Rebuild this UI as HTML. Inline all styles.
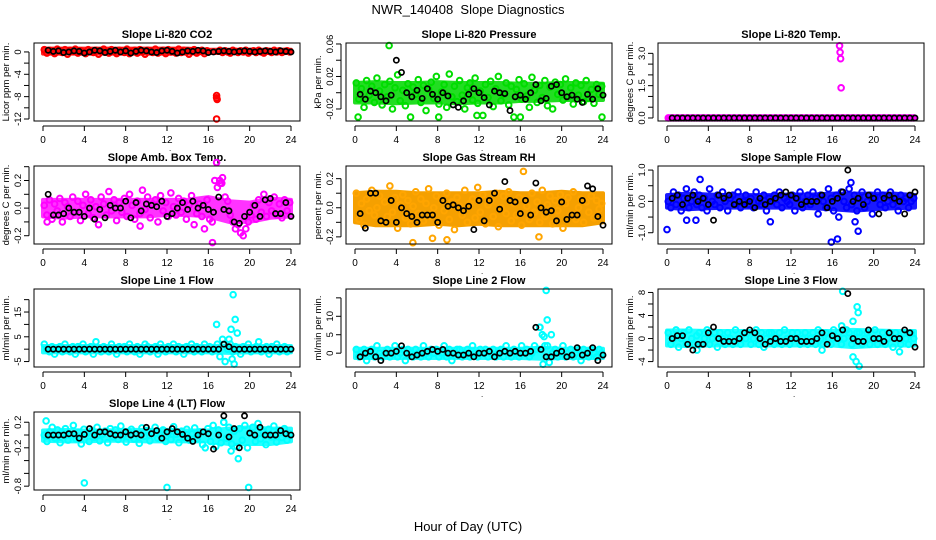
<!DOCTYPE html>
<html><head><meta charset="utf-8"><style>
html,body{margin:0;padding:0;background:#fff}
svg{display:block;font-family:"Liberation Sans",Arial,sans-serif}
</style></head><body>
<svg id="chart" width="936" height="540" viewBox="0 0 936 540" xmlns="http://www.w3.org/2000/svg">
<rect width="936" height="540" fill="#fff"/>
<text x="468" y="14" font-size="13" text-anchor="middle">NWR_140408&#160; Slope Diagnostics</text>
<text x="468" y="531" font-size="13" text-anchor="middle">Hour of Day (UTC)</text>
</svg>
<script>
// ---- data (values in panel units; multiplied by unit) ----
const xTicks = [0,4,8,12,16,20,24];
const titles = ["Slope Li-820 CO2","Slope Li-820 Pressure","Slope Li-820 Temp.","Slope Amb. Box Temp.","Slope Gas Stream RH","Slope Sample Flow","Slope Line 1 Flow","Slope Line 2 Flow","Slope Line 3 Flow","Slope Line 4 (LT) Flow"];
const yTitles = ["Licor ppm per min.","kPa per min.","degrees C per min.","degrees C per min.","percent per min.","ml/min per min.","ml/min per min.","ml/min per min.","ml/min per min.","ml/min per min."];
const yMin = [-12.36,-0.0348,-0.14,-0.26,-0.249,-1.36,-7.2,-3.75,-4.94,-0.86];
const yMax = [1.6,0.0612,3.48,0.305,0.287,1.13,24.3,17.4,8.6,0.36];
const yTickVals = [[0,-2,-4,-6,-8,-10,-12],[-0.02,0,0.02,0.04,0.06],[0,0.5,1,1.5,2,2.5,3],[-0.2,-0.1,0,0.1,0.2,0.3],[-0.2,-0.1,0,0.1,0.2],[-1,-0.5,0,0.5,1],[-5,0,5,10,15,20],[0,5,10,15],[-4,-2,0,2,4,6,8],[0.2,0,-0.2,-0.4,-0.6,-0.8]];
const yTickLabels = [["0","","-4","","-8","","-12"],["-0.02","","0.02","","0.06"],["0.0","","","1.5","","","3.0"],["-0.2","","0.0","","0.2",""],["-0.2","","0.0","","0.2"],["-1.0","","0.0","","1.0"],["-5","","5","","15",""],["0","5","10",""],["-4","","0","","4","","8"],["0.2","","-0.2","","","-0.8"]];
const units = [0.1,0.001,0.1,0.01,0.01,0.1,1,1,1,0.01];
const colors = ["#ff0000","#00dd00","#ff00ff","#ff00ff","#ffa500","#0000ff","#00ffff","#00ffff","#00ffff","#00ffff"];
const bandColors = ["#ff2020","#22dd22","#ff00ff","#ff33ff","#f5a000","#1a1aff","#22ffff","#22ffff","#22ffff","#22ffff"];
// dense-cloud envelope, every 2 hours (0..24), actual units
const bandLo0 = [-0.3,-0.3,-0.3,-0.3,-0.3,-0.3,-0.3,-0.3,-0.2,-0.2,-0.2,-0.2,-0.2];
const bandHi0 = [0.6,0.6,0.6,0.6,0.6,0.6,0.6,0.6,0.4,0.4,0.4,0.4,0.4];
const bandLo1 = [-0.012,-0.012,-0.013,-0.012,-0.012,-0.013,-0.012,-0.012,-0.01,-0.01,-0.009,-0.009,-0.009];
const bandHi1 = [0.012,0.013,0.012,0.012,0.013,0.012,0.012,0.012,0.011,0.011,0.012,0.012,0.011];
const bandLo2 = [-0.02,-0.02,-0.02,-0.02,-0.02,-0.02,-0.02,-0.02,-0.02,-0.02,-0.02,-0.02,-0.02];
const bandHi2 = [0.03,0.03,0.03,0.03,0.03,0.03,0.03,0.03,0.03,0.03,0.03,0.03,0.03];
const bandLo3 = [-0.06,-0.07,-0.06,-0.06,-0.06,-0.06,-0.05,-0.05,-0.06,-0.1,-0.1,-0.07,-0.06];
const bandHi3 = [0.06,0.06,0.06,0.06,0.06,0.06,0.06,0.06,0.08,0.05,0.04,0.07,0.06];
const bandLo4 = [-0.1,-0.12,-0.12,-0.12,-0.11,-0.12,-0.11,-0.12,-0.12,-0.12,-0.12,-0.12,-0.1];
const bandHi4 = [0.1,0.11,0.11,0.1,0.1,0.1,0.1,0.11,0.1,0.1,0.11,0.1,0.1];
const bandLo5 = [-0.2,-0.25,-0.22,-0.2,-0.2,-0.2,-0.2,-0.22,-0.25,-0.3,-0.25,-0.22,-0.2];
const bandHi5 = [0.2,0.25,0.22,0.2,0.2,0.2,0.22,0.22,0.25,0.25,0.25,0.25,0.2];
const bandLo6 = [-1.3,-1.3,-1.3,-1.3,-1.3,-1.3,-1.3,-1.3,-1.3,-1.5,-1.3,-1.3,-1.3];
const bandHi6 = [1.3,1.3,1.3,1.3,1.3,1.3,1.3,1.3,1.3,1.5,1.3,1.3,1.3];
const bandLo7 = [-1.3,-1.3,-1.3,-1.3,-1.3,-1.3,-1.3,-1.3,-1.3,-1.5,-1.3,-1.3,-1.3];
const bandHi7 = [1.2,1.2,1.2,1.2,1.2,1.2,1.2,1.2,1.2,1.5,1.2,1.2,1.2];
const bandLo8 = [-1.2,-1.3,-1.2,-1.2,-1.2,-1.2,-1.2,-1.2,-1.2,-1.5,-1.3,-1.2,-1.2];
const bandHi8 = [1.4,1.4,1.3,1.3,1.3,1.3,1.3,1.3,1.3,1.5,1.4,1.3,1.3];
const bandLo9 = [-0.09,-0.1,-0.1,-0.09,-0.09,-0.1,-0.1,-0.1,-0.1,-0.14,-0.14,-0.14,-0.1];
const bandHi9 = [0.07,0.08,0.07,0.07,0.08,0.08,0.08,0.07,0.07,0.1,0.12,0.1,0.1];
const bandLoAll = [bandLo0,bandLo1,bandLo2,bandLo3,bandLo4,bandLo5,bandLo6,bandLo7,bandLo8,bandLo9];
const bandHiAll = [bandHi0,bandHi1,bandHi2,bandHi3,bandHi4,bandHi5,bandHi6,bandHi7,bandHi8,bandHi9];

const colored0 = [4,-2,3,1,-3,5,2,-1,4,-4,3,1,5,-2,2,0,-3,4,1,-1,3,-4,2,5,0,-2,4,1,-3,3,2,-1,5,-3,1,3,-2,4,0,-4,3,2,-1,5,-2,1,3,-3,4,0,2,-2,5,-1,3,1,-4,2,4,-2,1,3,-3,2,null,null,null,null,3,-1,2,0,-2,3,1,-1,2,0,3,-2,1,2,-1,3,0,-2,2,1,-1,3,0,2,-1,1,2,0];
const black0 = [3,1,2,-1,0,2,1,-2,0,3,2,-1,1,3,0,2,-2,1,3,2,0,-1,2,3,1,-2,0,2,1,3,2,-1,0,1,2,1,0,1,2,1,0,1,2,1,0,2,1,0];
const colored1 = [12,-8,5,-18,15,-3,8,-12,18,2,-15,10,-5,14,-20,6,22,-10,3,-16,11,-30,7,-2,16,-12,9,-22,4,13,-7,20,-14,1,10,-18,23,-5,8,-11,15,-3,-20,6,12,-9,18,-13,2,-28,10,-6,14,-17,5,20,-10,-2,12,-15,8,-30,4,16,-8,11,-4,-18,19,3,-12,9,-6,15,-16,7,-20,13,-2,10,-9,17,-5,6,-14,12,-3,9,-11,15,-7,4,-13,10,-2,8];
const black1 = [-2,-8,2,0,-5,-10,-3,40,25,0,-5,3,-7,5,-2,-8,0,-4,-15,-18,-10,-2,5,0,-6,-15,2,0,-1,-22,-5,-3,-8,0,10,-10,-7,8,10,0,-5,-3,-8,-12,-2,-8,5,-3];
const colored2 = [0,0,0,0,0,0,0,0,0,0,0,0,0,0,0,0,0,0,0,0,0,0,0,0,0,0,0,0,0,0,0,0,0,0,0,0,0,0,0,0,0,0,0,0,0,0,0,0,0,0,0,0,0,0,0,0,0,0,0,0,0,0,0,0,0,0,0,0,0,0,0,0,0,0,0,0,0,0,0,0,0,0,0,0,0,0,0,0,0,0,0,0,0,0,0,0];
const black2 = [0,0,0,0,0,0,0,0,0,0,0,0,0,0,0,0,0,0,0,0,0,0,0,0,0,0,0,0,0,0,0,0,0,0,0,0,0,0,0,0,0,0,0,0,0,0,0,0];
const colored3 = [2,-5,6,-8,3,-2,7,-10,4,1,-6,8,-3,5,-9,2,10,-4,6,-7,1,-12,8,3,-5,12,-2,6,-9,4,-3,7,-6,10,2,-8,5,-4,13,-1,8,-7,3,6,-10,9,-2,4,-6,11,1,-5,7,-3,5,-8,2,9,-12,-4,3,-6,-15,6,-8,-10,20,15,18,22,8,5,-5,-10,-15,-12,-18,-20,-15,-10,-5,2,-8,6,-3,10,-6,4,-2,8,-5,3,-7,6,-2,4];
const black3 = [10,-5,-5,-4,0,-3,-3,-6,0,-8,-1,-7,2,0,0,5,-7,4,-2,3,2,1,5,-6,-4,0,4,-1,5,0,2,-1,-3,8,-1,-2,-10,-11,-6,-3,2,-6,6,7,-4,-4,4,-6];
const colored4 = [10,-8,3,-12,6,-2,12,-5,0,8,-10,4,-6,15,-3,7,-14,2,9,-7,5,-11,1,11,-4,6,-9,3,13,-6,0,8,-12,5,-2,10,-8,4,-15,7,1,-5,12,-10,3,6,-7,14,-3,9,-11,2,5,-6,10,-13,0,8,-4,11,-9,3,-5,7,-12,6,1,-8,10,-3,4,-10,12,-6,2,8,-11,5,-2,9,-14,3,7,-5,11,-8,0,6,-10,4,-3,8,-7,5,-1,3];
const black4 = [-4,-14,10,10,-9,-10,5,-10,0,-4,-6,-10,-5,-5,-5,-10,5,1,2,0,-2,1,-15,5,-9,5,10,-1,18,5,4,-4,5,-5,17,0,-3,-2,-9,4,-8,-5,-5,5,15,13,-6,-12];
const colored5 = [0,-2,3,-1,2,-3,1,4,-2,0,3,-1,2,-2,1,-3,4,0,-1,2,-2,3,0,-3,1,2,-1,3,-2,0,2,-1,1,-2,3,0,-1,2,-3,1,0,2,-1,3,-2,1,0,-1,2,-3,1,3,-2,0,2,-1,3,1,-4,2,0,-2,4,1,-3,2,-5,3,0,-2,4,-1,2,-3,1,3,-2,0,2,-4,1,3,-1,2,-2,0,3,-1,1,-3,2,0,1,-2,0,1];
const black5 = [1,2,-1,1,2,0,1,-1,-6,2,1,2,-1,0,-1,0,-2,1,-1,0,1,2,3,2,1,-1,0,0,0,2,-2,0,1,3,10,0,1,-1,2,1,-4,1,2,1,0,-4,2,3];
const colored6 = [2,0,-1,1,-2,0,1,-1,2,0,-1,1,-2,1,0,2,-1,0,1,-2,3,0,-1,1,0,-1,2,0,-2,1,0,1,-1,2,0,-1,1,-2,0,2,1,-1,0,1,-2,2,0,-1,1,0,2,-1,1,0,-2,1,0,2,-1,1,0,-1,2,0,1,-1,0,2,-3,4,-5,0,2,-1,1,0,-2,1,0,2,-1,0,1,3,-1,0,1,-2,1,0,2,-1,0,1,-1,0];
const black6 = [0,0,0,0,0,0,0,0,0,0,0,0,0,0,0,0,0,0,0,0,0,0,0,0,0,0,0,0,0,0,0,0,0,0,2,1,0,0,0,0,0,0,0,0,0,0,0,0];
const colored7 = [1,-1,0,1,-2,0,1,-1,2,0,-1,0,1,-1,0,2,-1,0,1,-2,1,0,-1,1,0,-1,2,0,-1,1,0,1,-1,0,2,-1,1,-2,0,1,1,-1,0,1,-1,2,0,-1,1,0,1,-1,0,1,-1,0,1,-1,2,0,-1,1,0,-1,2,0,1,-1,0,2,1,7,5,2,2,-1,0,1,-1,0,2,-1,0,1,-1,0,1,-2,1,0,-1,1,0,-1,1,0];
const black7 = [-1,0,0.5,-1,-2,0,0,0.5,2,0,-1,-0.5,0,0.5,1,0.5,1,0,0,-0.5,-0.5,0,-1,0,0,0.5,-1,0,0.5,0,0.5,0,0,0.5,7,1,-1,-1,0,0.5,-1,-0.5,1.5,-0.5,0,1.5,-2,-0.5];
const colored8 = [1,-1,0,1.5,-1.5,0,1,-1,1.5,0,-1,0.5,1,-1,0,1.5,-1,0,1,-1.5,1,0,-1,1,0,-1,1.5,0,-1,1,0,1,-1,0,1.5,-1,1,-1.5,0,1,1,-1,0,1,-1,1.5,0,-1,1,0,1,-1,0,1,-1,0,1,-1,1.5,0,-1,1,0,-1,1.5,0,1,-1,0,1.5,1,-1,0,1,1,-1,0,1,-1,0,1.5,-1,0,1,-1,0,1,-1.5,1,0,-1,1,0,-1,1,0];
const black8 = [0,0.5,0.5,-1,-2,-1,-1,1,2,0,-0.5,-0.5,-0.5,0,1,1.5,1,0,-1,-0.5,0,-0.5,-0.5,0,0,-0.5,-0.5,-0.5,0,1,-1,0.5,0,1.5,7.8,0,-0.5,-0.5,1.5,0,0,-0.5,1,0,0,1.5,1,-1.5];
const colored9 = [0,-10,5,12,-5,8,-12,3,10,-8,0,15,-6,4,-14,9,2,-10,7,-4,12,-9,1,6,-12,10,-3,8,-7,14,0,-11,5,9,-6,2,-13,11,-2,7,-9,4,12,-5,0,8,-10,3,-7,13,1,-12,6,-4,9,-8,2,11,-6,5,-15,-20,10,-10,15,-18,8,-12,20,-5,12,-14,6,-18,10,-8,15,-20,3,12,-10,18,-6,5,-15,9,-3,14,-11,7,-4,10,-8,2];
const black9 = [0,0,0,0,2,2,-5,1,10,0,5,5,2,0,0,5,0,2,0,12,2,7,-5,5,10,5,1,-5,-10,0,5,2,-22,0,30,-3,10,-20,30,3,0,12,0,0,0,7,2,0];
const outX = [[16.8,16.8,16.85,16.8],[3.3,0.3,8.1,16,23.9,11.8],[16.7,16.75,16.8,16.85],[16.8,16.4,9.4,0.4,17.1,17.3],[16.3,5.6,7.5,17.8,8.9],[0,1.9,3.2,2.8,17.8,15.9,16.5,18.5,18.2,10],[18.4,18.6,16.8,18.2,18.8,18,18.3,18.5,17.5],[18.5,18.6,19,17.9,18.2,18.8,18.3],[17,18.4,18.5,18,18,18.3,18.6,2.9,15,22.5,16.9],[0.3,4,12,19.9,18.9,17.5,18.2]];
const outY = [[-7.8,-8.2,-8.5,-12],[0.058,-0.03,-0.03,-0.03,-0.03,-0.028],[3.35,3.05,2.75,1.4],[0.33,-0.25,-0.13,-0.1,0.2,0.18],[0.25,-0.24,-0.21,-0.2,-0.22],[-0.9,-0.6,0.7,-0.6,0.6,-1.3,-1.2,-0.95,-0.65,-0.65],[22,12,10,8,6.5,4,-4,-6,2],[17,9,5,7,-3,-2.5,4.5],[8.2,5.5,4.5,3,-3.2,-4,-4.8,-2,-2,-2.3,2.2],[0.22,-0.75,-0.82,-0.82,-0.37,0.2,-0.25]];
const coloredAll = [colored0,colored1,colored2,colored3,colored4,colored5,colored6,colored7,colored8,colored9];
const blackAll = [black0,black1,black2,black3,black4,black5,black6,black7,black8,black9];

const NS = "http://www.w3.org/2000/svg";
const svg = document.getElementById("chart");
function el(tag, parent){ const e = document.createElementNS(NS, tag); parent.appendChild(e); return e; }
function slug(s){ return s.toLowerCase().replace(/[^a-z0-9]+/g,'-').replace(/^-|-$/g,''); }

for (let p = 0; p < 10; p++) {
  const col = p % 3, row = Math.floor(p / 3);
  const L = 34 + 312*col, T = 43 + 123*row, W = 266, H = 78;
  const xs = v => L + 9 + v/24*248;
  const ys = v => T + H - (v - yMin[p])/(yMax[p]-yMin[p])*H;
  const g = el("g", svg);
  
  

  const t = el("text", g);
  t.setAttribute("x", L + W/2); t.setAttribute("y", T - 5);
  t.setAttribute("font-size", "11"); t.setAttribute("font-weight", "bold"); t.setAttribute("text-anchor", "middle");
  t.textContent = titles[p];
  
  

  const yt = el("text", g);
  const yx = L - 25, yy = T + H/2;
  yt.setAttribute("x", yx); yt.setAttribute("y", yy);
  yt.setAttribute("font-size", "9.5"); yt.setAttribute("text-anchor", "middle");
  yt.setAttribute("transform", `rotate(-90 ${yx} ${yy})`);
  yt.textContent = yTitles[p];
  
  

  // dense cloud band
  const lo = bandLoAll[p], hi = bandHiAll[p];
  let d = "";
  hi.forEach((v, i) => { d += (i ? "L" : "M") + xs(i * 24 / (hi.length - 1)) + "," + ys(v); });
  for (let i = lo.length - 1; i >= 0; i--) d += "L" + xs(i * 24 / (lo.length - 1)) + "," + ys(lo[i]);
  d += "Z";
  const band = el("path", g);
  band.setAttribute("d", d);
  band.setAttribute("fill", bandColors[p]);
  band.setAttribute("stroke", bandColors[p]);
  band.setAttribute("stroke-width", 4);
  band.setAttribute("stroke-linejoin", "round");
  
  

  // points
  const pts = el("g", g);
  
  
  const cv = coloredAll[p];
  cv.forEach((v, i) => {
    if (v === null) return;
    const c = el("circle", pts);
    c.setAttribute("cx", xs((i + 0.5) * 24 / cv.length));
    c.setAttribute("cy", ys(v * units[p]));
    c.setAttribute("r", 2.8);
    c.setAttribute("fill", "none");
    c.setAttribute("stroke", colors[p]);
    c.setAttribute("stroke-width", 2);
    
    
  });
  outX[p].forEach((x, i) => {
    const c = el("circle", pts);
    c.setAttribute("cx", xs(x));
    c.setAttribute("cy", ys(outY[p][i]));
    c.setAttribute("r", 2.8);
    c.setAttribute("fill", "none");
    c.setAttribute("stroke", colors[p]);
    c.setAttribute("stroke-width", 2);
    
    
  });
  const bp = el("g", g);
  
  
  const bv = blackAll[p];
  bv.forEach((v, i) => {
    const c = el("circle", bp);
    c.setAttribute("cx", xs((i + 1) * 24 / bv.length));
    c.setAttribute("cy", ys(v * units[p]));
    c.setAttribute("r", 2.6);
    c.setAttribute("fill", "none");
    c.setAttribute("stroke", "#000");
    c.setAttribute("stroke-width", 1.7);
    
    
  });

  // box
  const r = el("rect", g);
  r.setAttribute("x", L); r.setAttribute("y", T); r.setAttribute("width", W); r.setAttribute("height", H);
  r.setAttribute("fill", "none"); r.setAttribute("stroke", "#000"); r.setAttribute("stroke-width", 1);
  
  

  // x axis
  const xa = el("g", g);
  
  
  const xl = el("line", xa);
  xl.setAttribute("x1", xs(0)); xl.setAttribute("x2", xs(24)); xl.setAttribute("y1", T+H+5); xl.setAttribute("y2", T+H+5);
  xl.setAttribute("stroke", "#000");
  xTicks.forEach(v => {
    const tk = el("line", xa);
    tk.setAttribute("x1", xs(v)); tk.setAttribute("x2", xs(v)); tk.setAttribute("y1", T+H+5); tk.setAttribute("y2", T+H+10);
    tk.setAttribute("stroke", "#000");
    const lb = el("text", xa);
    lb.setAttribute("x", xs(v)); lb.setAttribute("y", T+H+22);
    lb.setAttribute("font-size", "10"); lb.setAttribute("text-anchor", "middle");
    lb.textContent = v;
    
    
  });
  const dot = el("text", xa);
  dot.setAttribute("x", xs(12)+2); dot.setAttribute("y", T+H+30); dot.setAttribute("font-size", "8");
  dot.textContent = ".";

  // y axis
  const ya = el("g", g);
  
  
  const tv = yTickVals[p];
  const ymin = Math.min(...tv), ymax = Math.max(...tv);
  const yl = el("line", ya);
  yl.setAttribute("x1", L-5); yl.setAttribute("x2", L-5); yl.setAttribute("y1", ys(ymin)); yl.setAttribute("y2", ys(ymax));
  yl.setAttribute("stroke", "#000");
  tv.forEach((v, i) => {
    const tk = el("line", ya);
    tk.setAttribute("x1", L-10); tk.setAttribute("x2", L-5); tk.setAttribute("y1", ys(v)); tk.setAttribute("y2", ys(v));
    tk.setAttribute("stroke", "#000");
    const s = yTickLabels[p][i];
    if (!s) return;
    const lb = el("text", ya);
    const lx = L - 13, ly = ys(v);
    lb.setAttribute("x", lx); lb.setAttribute("y", ly);
    lb.setAttribute("font-size", "9.5"); lb.setAttribute("text-anchor", "middle");
    lb.setAttribute("transform", `rotate(-90 ${lx} ${ly})`);
    lb.textContent = s;
    
    
  });
}
</script>
</body></html>
